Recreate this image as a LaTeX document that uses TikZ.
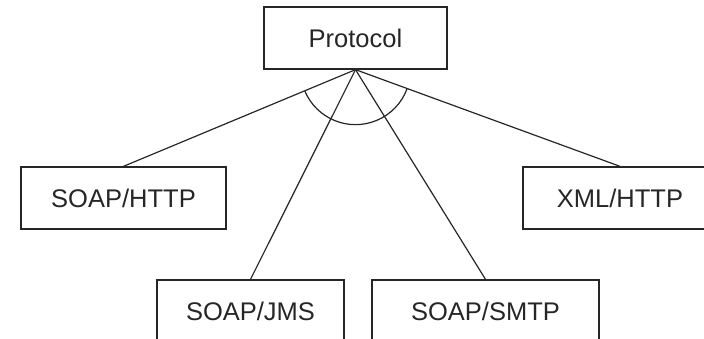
\documentclass[tikz,border=0pt]{standalone}
\usepackage{fontspec}
\setmainfont{Liberation Sans}
\usetikzlibrary{calc}
\begin{document}
\begin{tikzpicture}[x=1pt,y=-1pt,
  box/.style={draw=black!85, line width=1.3pt, minimum height=62pt, inner sep=0pt, font=\fontsize{25.5}{28}\selectfont, text=black!85},
  conn/.style={draw=black!85, line width=1.2pt}]
\useasboundingbox (0,0) rectangle (704,339);
\node[box, minimum width=183pt] (p) at (355.5,38) {Protocol};
\node[box, minimum width=205pt] (a) at (123.5,198) {SOAP/HTTP};
\node[box, minimum width=187pt] (b) at (250.5,311) {SOAP/JMS};
\node[box, minimum width=227pt] (c) at (485.5,311) {SOAP/SMTP};
\node[box, minimum width=194pt] (e) at (620,198) {XML/HTTP};
\draw[conn] (p.south) -- (a.north);
\draw[conn] (p.south) -- (b.north);
\draw[conn] (p.south) -- (c.north);
\draw[conn] (p.south) -- (e.north);
\draw[conn] let \p1=($(a.north)-(p.south)$), \p2=($(e.north)-(p.south)$),
  \n1={atan2(\y1,\x1)}, \n2={atan2(\y2,\x2)} in
  ($(p.south)!55pt!(a.north)$) arc[start angle=\n1, end angle=\n2, radius=55pt];
\end{tikzpicture}
\end{document}
